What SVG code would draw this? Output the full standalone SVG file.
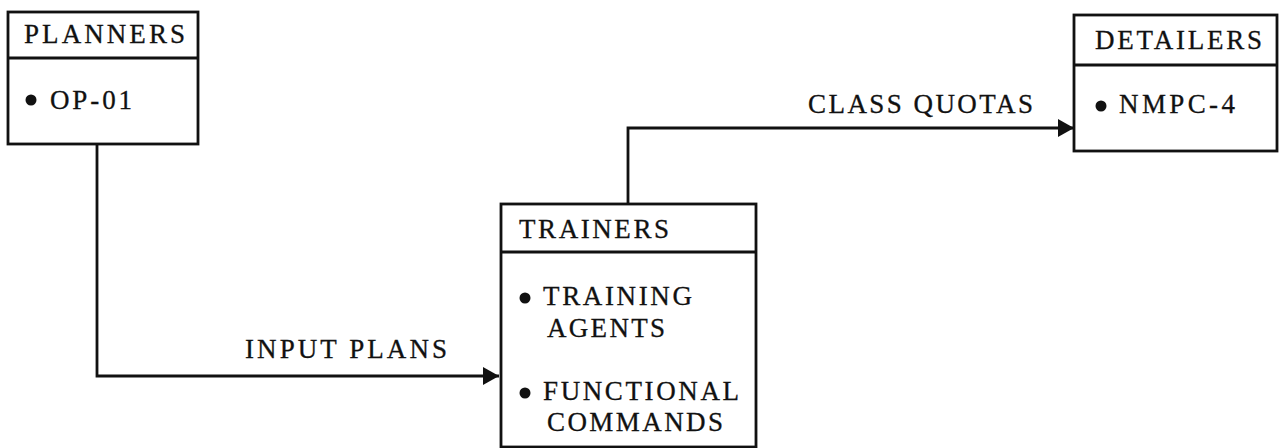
<svg xmlns="http://www.w3.org/2000/svg" width="1279" height="448" viewBox="0 0 1279 448">
<defs>
<style>
.box{fill:#fff;stroke:#111;stroke-width:2.8}
.div{stroke:#111;stroke-width:2.8}
.t{font-family:"Liberation Serif","Times New Roman",serif;font-size:27px;fill:#111;stroke:#111;stroke-width:0.3}
.dot{fill:#111}
.con{fill:none;stroke:#111;stroke-width:2.8}
</style>
<marker id="arr" markerWidth="18" markerHeight="20" refX="16" refY="9" orient="auto" markerUnits="userSpaceOnUse">
<path d="M0,0 L16,9 L0,18 Z" fill="#111"/>
</marker>
</defs>
<rect width="1279" height="448" fill="#fff"/>
<g id="connectors">
<path class="con" d="M97,144 V376 H499" marker-end="url(#arr)"/>
<path class="con" d="M628,204 V128 H1074" marker-end="url(#arr)"/>
<text class="t" x="245" y="358" textLength="202" lengthAdjust="spacing">INPUT PLANS</text>
<text class="t" x="808" y="113" textLength="225" lengthAdjust="spacing">CLASS QUOTAS</text>
</g>
<g id="planners">
<rect class="box" x="8" y="12" width="190" height="132"/>
<line class="div" x1="8" y1="58" x2="198" y2="58"/>
<text class="t" x="24" y="43" textLength="161" lengthAdjust="spacing">PLANNERS</text>
<circle class="dot" cx="31" cy="100" r="5.5"/>
<text class="t" x="50" y="109" textLength="82" lengthAdjust="spacing">OP-01</text>
</g>
<g id="trainers">
<rect class="box" x="501" y="204" width="255" height="243"/>
<line class="div" x1="501" y1="252" x2="756" y2="252"/>
<text class="t" x="519" y="238" textLength="150" lengthAdjust="spacing">TRAINERS</text>
<circle class="dot" cx="525" cy="298" r="5.5"/>
<text class="t" x="543" y="305" textLength="149" lengthAdjust="spacing">TRAINING</text>
<text class="t" x="547" y="337" textLength="118" lengthAdjust="spacing">AGENTS</text>
<circle class="dot" cx="525" cy="393" r="5.5"/>
<text class="t" x="543" y="400" textLength="196" lengthAdjust="spacing">FUNCTIONAL</text>
<text class="t" x="547" y="431" textLength="176" lengthAdjust="spacing">COMMANDS</text>
</g>
<g id="detailers">
<rect class="box" x="1074" y="15" width="203" height="136"/>
<line class="div" x1="1074" y1="65" x2="1277" y2="65"/>
<text class="t" x="1095" y="49" textLength="167" lengthAdjust="spacing">DETAILERS</text>
<circle class="dot" cx="1101" cy="106" r="5.5"/>
<text class="t" x="1119" y="113" textLength="116" lengthAdjust="spacing">NMPC-4</text>
</g>
</svg>
